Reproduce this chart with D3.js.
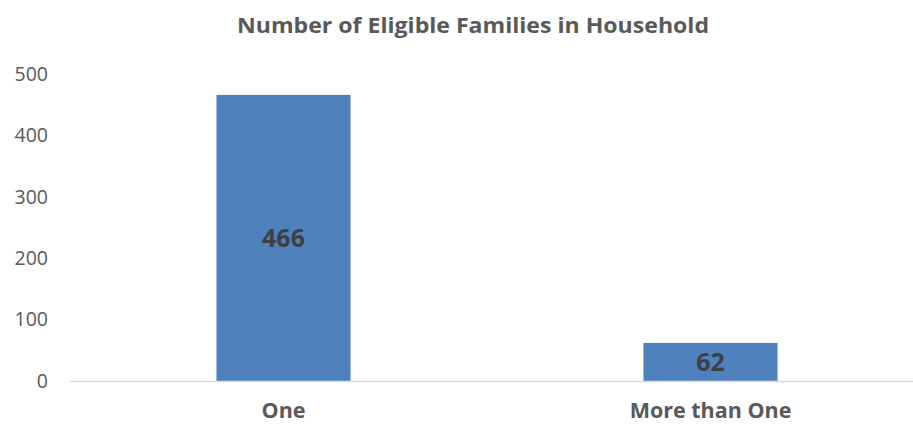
<!DOCTYPE html>
<html><head><meta charset="utf-8">
<script src="https://d3js.org/d3.v7.min.js"></script>
<style>body{margin:0;background:#fff}svg{display:block}</style>
</head><body>
<script>
const categories = ["One", "More than One"];
const values = [466, 62];
const yTicks = [0, 100, 200, 300, 400, 500];
const title = "Number of Eligible Families in Household";

const W = 913, H = 425;
const svg = d3.select("body").append("svg").attr("width", W).attr("height", H);
const font = "'Open Sans', 'Liberation Sans', sans-serif";

const x = d3.scaleBand().domain(categories).range([70, 924]).paddingInner(0.686).paddingOuter(0.343);
const y = d3.scaleLinear().domain([0, 500]).range([381, 74]);

svg.append("text").attr("x", 473).attr("y", 33).attr("text-anchor", "middle")
  .attr("font-family", font).attr("font-weight", "bold").attr("font-size", 22)
  .attr("textLength", 472).attr("lengthAdjust", "spacingAndGlyphs")
  .attr("fill", "#595959").text(title);

svg.append("g").selectAll("text").data(yTicks).join("text")
  .attr("x", 48).attr("y", d => y(d)).attr("dy", "0.35em").attr("text-anchor", "end")
  .attr("font-family", font).attr("font-size", 19.5).attr("fill", "#595959").text(d => d);

svg.append("g").selectAll("rect").data(values).join("rect")
  .attr("x", (d, i) => x(categories[i])).attr("width", x.bandwidth())
  .attr("y", d => y(d)).attr("height", d => y(0) - y(d)).attr("fill", "#4F81BD");

svg.append("line").attr("x1", 70).attr("x2", 924).attr("y1", y(0) + 0.5).attr("y2", y(0) + 0.5)
  .attr("stroke", "#D9D9D9").attr("stroke-width", 1.5);

svg.append("g").selectAll("text").data(values).join("text")
  .attr("x", (d, i) => x(categories[i]) + x.bandwidth() / 2)
  .attr("y", d => (y(d) + y(0)) / 2).attr("dy", "0.35em").attr("text-anchor", "middle")
  .attr("font-family", font).attr("font-weight", "bold").attr("font-size", 25)
  .attr("fill", "#404040").text(d => d);

svg.append("g").selectAll("text").data(categories).join("text")
  .attr("x", d => x(d) + x.bandwidth() / 2).attr("y", 418).attr("text-anchor", "middle")
  .attr("font-family", font).attr("font-weight", "bold").attr("font-size", 21.5)
  .attr("fill", "#595959").text(d => d);
</script>
</body></html>
